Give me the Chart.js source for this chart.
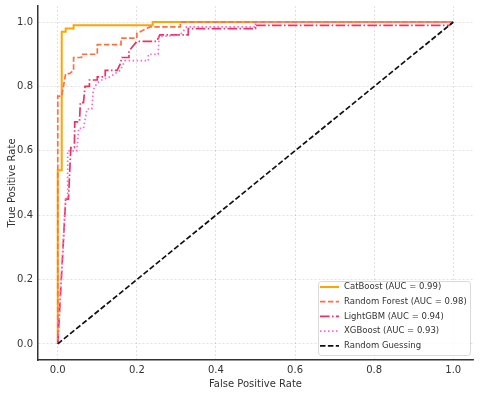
<!DOCTYPE html>
<html>
<head>
<meta charset="utf-8">
<script src="https://cdn.jsdelivr.net/npm/chart.js@4.4.1/dist/chart.umd.min.js"></script>
<style>
  html, body { margin: 0; padding: 0; background: #fff; }
  #wrap { width: 480px; height: 396px; }
</style>
</head>
<body>
<div id="wrap"><canvas id="rocChart" width="480" height="396"></canvas></div>
<script>
// ROC curve values
var modelNames = ["CatBoost", "Random Forest", "LightGBM", "XGBoost"];
var aucValues = [0.99, 0.98, 0.94, 0.93];

var fprCat = [0, 0, 0.01, 0.01, 0.02, 0.02, 0.04, 0.04, 0.24, 0.24, 1.0];
var tprCat = [0, 0.54, 0.54, 0.97, 0.97, 0.98, 0.98, 0.99, 0.99, 1.0, 1.0];

var fprRf = [0, 0, 0.01, 0.02, 0.03, 0.04, 0.04, 0.06, 0.06, 0.10, 0.10, 0.16, 0.16, 0.20, 0.20, 0.225, 0.233, 0.31, 0.31, 1.0];
var tprRf = [0, 0.77, 0.77, 0.84, 0.84, 0.85, 0.89, 0.89, 0.90, 0.90, 0.93, 0.93, 0.95, 0.95, 0.965, 0.98, 0.985, 0.985, 1.0, 1.0];

var fprLgb = [0, 0.02, 0.027, 0.033, 0.042, 0.043, 0.055, 0.057, 0.065, 0.069, 0.08, 0.08, 0.10, 0.10, 0.12, 0.12, 0.15, 0.158, 0.162, 0.18, 0.18, 0.20, 0.25, 0.258, 0.33, 0.33, 0.50, 0.50, 0.99, 1.0];
var tprLgb = [0, 0.45, 0.45, 0.61, 0.61, 0.69, 0.69, 0.75, 0.75, 0.80, 0.80, 0.82, 0.82, 0.83, 0.83, 0.85, 0.85, 0.87, 0.89, 0.89, 0.91, 0.94, 0.94, 0.96, 0.96, 0.98, 0.98, 0.99, 0.99, 1.0];

var fprXgb = [0, 0.02, 0.025, 0.025, 0.048, 0.053, 0.065, 0.074, 0.086, 0.09, 0.099, 0.111, 0.132, 0.158, 0.17, 0.229, 0.229, 0.254, 0.256, 0.309, 0.326, 0.50, 0.50, 1.0];
var tprXgb = [0, 0.45, 0.45, 0.60, 0.60, 0.67, 0.67, 0.73, 0.73, 0.79, 0.81, 0.82, 0.83, 0.85, 0.88, 0.88, 0.90, 0.90, 0.955, 0.96, 0.985, 0.985, 1.0, 1.0];

var fprRandom = [0, 1];
var tprRandom = [0, 1];

var xTicks = [0, 0.2, 0.4, 0.6, 0.8, 1.0];
var yTicks = [0, 0.2, 0.4, 0.6, 0.8, 1.0];

function toPoints(xs, ys) {
  return xs.map(function (x, i) { return { x: x, y: ys[i] }; });
}

var FONT = "'DejaVu Sans', sans-serif";
var TEXT = "#333";

var datasets = [
  { label: modelNames[0] + " (AUC = " + aucValues[0].toFixed(2) + ")", data: toPoints(fprCat, tprCat),
    borderColor: "#ffa500", borderWidth: 2, borderDash: [], order: 5 },
  { label: modelNames[1] + " (AUC = " + aucValues[1].toFixed(2) + ")", data: toPoints(fprRf, tprRf),
    borderColor: "#ff7043", borderWidth: 1.7, borderDash: [5.5, 2.4], order: 4 },
  { label: modelNames[2] + " (AUC = " + aucValues[2].toFixed(2) + ")", data: toPoints(fprLgb, tprLgb),
    borderColor: "#f0325f", borderWidth: 1.7, borderDash: [9.6, 2.4, 1.5, 2.4], order: 3 },
  { label: modelNames[3] + " (AUC = " + aucValues[3].toFixed(2) + ")", data: toPoints(fprXgb, tprXgb),
    borderColor: "#ff66cc", borderWidth: 1.7, borderDash: [1.5, 2.5], order: 2 },
  { label: "Random Guessing", data: toPoints(fprRandom, tprRandom),
    borderColor: "#111", borderWidth: 1.7, borderDash: [5.5, 2.4], order: 1 }
];
datasets.forEach(function (d) {
  d.showLine = true;
  d.pointRadius = 0;
  d.pointHoverRadius = 0;
  d.fill = false;
  d.tension = 0;
});

// legend drawn inside the plot, lower right, like matplotlib
var insideLegend = {
  id: "insideLegend",
  afterDraw: function (chart) {
    var ctx = chart.ctx;
    var x0 = 318, y0 = 281, w = 152, h = 74, rowH = 14.7;
    ctx.save();
    ctx.fillStyle = "rgba(255,255,255,0.85)";
    ctx.strokeStyle = "#cfcfcf";
    ctx.lineWidth = 0.8;
    ctx.beginPath();
    ctx.roundRect(x0 + 0.5, y0 + 0.5, w, h, 3);
    ctx.fill();
    ctx.stroke();
    ctx.font = "8.5px " + FONT;
    ctx.textBaseline = "middle";
    chart.data.datasets.forEach(function (d, i) {
      var cy = y0 + 6 + i * rowH;
      ctx.strokeStyle = d.borderColor;
      ctx.lineWidth = d.borderWidth;
      ctx.setLineDash(d.borderDash);
      ctx.beginPath();
      ctx.moveTo(x0 + 2, cy);
      ctx.lineTo(x0 + 21, cy);
      ctx.stroke();
      ctx.setLineDash([]);
      ctx.fillStyle = TEXT;
      ctx.fillText(d.label, x0 + 26, cy);
    });
    ctx.restore();
  }
};

new Chart("rocChart", {
  type: "scatter",
  data: { datasets: datasets },
  options: {
    responsive: false,
    animation: false,
    layout: { padding: { top: 6, right: 7, left: 0, bottom: 0 } },
    plugins: {
      legend: { display: false },
      tooltip: { enabled: false }
    },
    scales: {
      x: {
        type: "linear",
        min: -0.05,
        max: 1.05,
        afterBuildTicks: function (scale) {
          scale.ticks = xTicks.map(function (v) { return { value: v }; });
        },
        afterFit: function (scale) {
          scale.height = 36;
          scale.paddingLeft = 0;
          scale.paddingRight = 0;
        },
        ticks: {
          color: TEXT,
          font: { family: FONT, size: 10 },
          padding: 4,
          maxRotation: 0,
          callback: function (v) { return Number(v).toFixed(1); }
        },
        grid: { color: "rgba(0,0,0,0.15)", lineWidth: 0.8, drawTicks: false },
        border: { display: true, color: "#333", width: 1.5, dash: [2, 2] },
        title: {
          display: true,
          text: "False Positive Rate",
          color: TEXT,
          font: { family: FONT, size: 10 },
          padding: { top: 0, bottom: 6 }
        }
      },
      y: {
        type: "linear",
        min: -0.05,
        max: 1.05,
        afterBuildTicks: function (scale) {
          scale.ticks = yTicks.map(function (v) { return { value: v }; });
        },
        afterFit: function (scale) {
          scale.width = 38;
          scale.paddingTop = 0;
          scale.paddingBottom = 0;
        },
        ticks: {
          color: TEXT,
          font: { family: FONT, size: 10 },
          padding: 5,
          callback: function (v) { return Number(v).toFixed(1); }
        },
        grid: { color: "rgba(0,0,0,0.15)", lineWidth: 0.8, drawTicks: false },
        border: { display: true, color: "#333", width: 1.5, dash: [2, 2] },
        title: {
          display: true,
          text: "True Positive Rate",
          color: TEXT,
          font: { family: FONT, size: 10 },
          padding: { top: 6, bottom: 0 }
        }
      }
    }
  },
  plugins: [insideLegend]
});
</script>
</body>
</html>
